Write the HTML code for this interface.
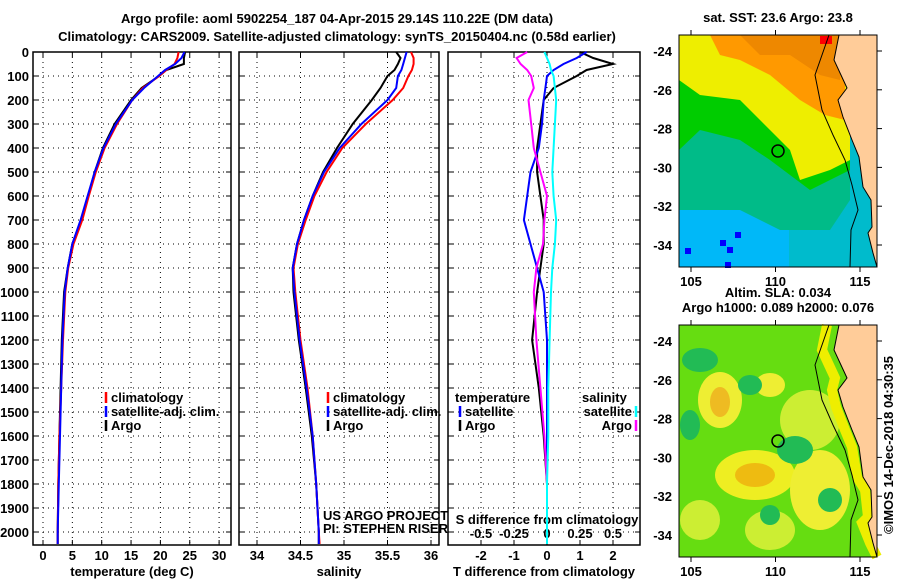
<!DOCTYPE html>
<html><head><meta charset="utf-8"><style>
body{margin:0;background:#fff}
svg text{font-family:"Liberation Sans",sans-serif;font-weight:bold;font-size:13px}
</style></head><body>
<svg id="c" width="900" height="580">
<text x="337" y="23" text-anchor="middle" font-size="15">Argo profile: aoml 5902254_187 04-Apr-2015 29.14S 110.22E (DM data)</text>
<text x="337" y="41" text-anchor="middle" font-size="15">Climatology: CARS2009. Satellite-adjusted climatology: synTS_20150404.nc (0.58d earlier)</text>
<g id="panels"></g>
<g id="maps"></g>
<text transform="translate(893,445) rotate(-90)" text-anchor="middle" font-weight="normal" font-size="13">©IMOS 14-Dec-2018 04:30:35</text>
</svg>
<script>
const depths=[0,25,50,75,100,150,200,300,400,500,600,700,800,900,1000,1200,1400,1600,1800,2000,2050];
const tClim=[23.1,22.9,22.4,21.0,19.8,17.0,15.2,12.6,10.5,9.0,7.8,6.7,5.2,4.3,3.8,3.4,3.1,2.8,2.6,2.5,2.5];
const tSat=[24.1,23.6,22.5,20.8,19.6,17.2,15.2,12.4,10.3,8.8,7.6,6.4,5.0,4.2,3.7,3.3,3.1,2.9,2.7,2.5,2.5];
const tArgo=[24.2,24.0,24.0,21.0,19.8,16.8,15.0,12.2,10.2,8.8,7.7,6.5,5.0,4.2,3.6,3.2,3.0,2.8,2.6,2.5,2.5];
const sClim=[35.77,35.8,35.8,35.78,35.74,35.68,35.56,35.25,34.98,34.8,34.66,34.56,34.47,34.42,34.44,34.5,34.58,34.64,34.68,34.71,34.72];
const sSat=[35.72,35.7,35.68,35.66,35.62,35.6,35.5,35.2,34.95,34.77,34.64,34.54,34.46,34.41,34.43,34.49,34.57,34.64,34.68,34.71,34.71];
const sArgo=[35.6,35.65,35.62,35.58,35.5,35.42,35.32,35.1,34.92,34.76,34.64,34.54,34.46,34.41,34.42,34.48,34.56,34.63,34.68,34.71,34.71];
const dTArgo=[1.0,1.4,2.0,1.2,0.9,0.2,-0.1,-0.2,-0.3,-0.3,-0.2,-0.1,-0.1,-0.2,-0.3,-0.45,-0.25,-0.1,0,0,0];
const dTSat=[1.2,0.9,0.5,0.2,0,-0.05,-0.1,-0.15,-0.25,-0.5,-0.6,-0.7,-0.5,-0.3,-0.1,0,0,0,0,0,0];
const dSSat=[-0.02,0,0.02,0.03,0.05,0.06,0.07,0.06,0.05,0.04,0.05,0.07,0.06,0.04,0.03,0.02,0.01,0.01,0,0,0];
const dSArgo=[-0.15,-0.23,-0.2,-0.15,-0.12,-0.1,-0.14,-0.12,-0.1,-0.05,0,-0.02,-0.03,-0.08,-0.1,-0.08,-0.05,-0.02,0,0,0];
const depthTicks=[0,100,200,300,400,500,600,700,800,900,1000,1100,1200,1300,1400,1500,1600,1700,1800,1900,2000];
const tTicks=[0,5,10,15,20,25,30];
const sTicks=[34,34.5,35,35.5,36];
const dTicks=[-2,-1,0,1,2];
const dSTickLabels=["-0.5","-0.25","0","0.25","0.5"];
const latTicks=[-24,-26,-28,-30,-32,-34];
const lonTicks=[105,110,115];
const NS="http://www.w3.org/2000/svg";
function el(t,a,p){const e=document.createElementNS(NS,t);for(const k in a)e.setAttribute(k,a[k]);p.appendChild(e);return e;}
const Y=d=>52+d*0.24;
const P=document.getElementById('panels');
function panel(x0,x1,xs,ticks,labs,xlabel,name){
  const g=el('g',{},P);
  
  
  ticks.forEach((t,i)=>{const x=xs(t);
    el('line',{x1:x,x2:x,y1:52,y2:545,stroke:'#000','stroke-dasharray':'1,4'},g);
    el('line',{x1:x,x2:x,y1:545,y2:540,stroke:'#000'},g);
    el('line',{x1:x,x2:x,y1:52,y2:57,stroke:'#000'},g);
    const tx=el('text',{x:x,y:560,'text-anchor':'middle'},g);tx.textContent=labs[i];
    
    
  });
  depthTicks.forEach(d=>{const y=Y(d);
    el('line',{x1:x0,x2:x1,y1:y,y2:y,stroke:'#000','stroke-dasharray':'1,4'},g);
    el('line',{x1:x0,x2:x0+5,y1:y,y2:y,stroke:'#000'},g);
    el('line',{x1:x1-5,x2:x1,y1:y,y2:y,stroke:'#000'},g);
  });
  el('rect',{x:x0,y:52,width:x1-x0,height:493,fill:'none',stroke:'#000','stroke-width':1.5},g);
  if(xlabel){const t=el('text',{x:(x0+x1)/2,y:576,'text-anchor':'middle'},g);t.textContent=xlabel;
    
    }
  return g;
}
function line(g,xs,vals,col,name){
  const pts=vals.map((v,i)=>xs(v).toFixed(1)+','+Y(depths[i]).toFixed(1)).join(' ');
  const p=el('polyline',{points:pts,fill:'none',stroke:col,'stroke-width':2},g);
  
  
}
function legend(g,x,y,items,anchor){
  items.forEach((it,i)=>{const yy=y+i*14;
    el('line',{x1:x,x2:x,y1:yy-10,y2:yy+1,stroke:it[1],'stroke-width':2.5},g);
    const t=el('text',{x:anchor==='end'?x-4:x+5,y:yy,'font-weight':'normal','font-size':12,'text-anchor':anchor||'start'},g);t.textContent=it[0];
    
    
  });
}
const xT=v=>43+v*5.87;
let g1=panel(33,231,xT,tTicks,tTicks.map(String),'temperature (deg C)','temperature-panel');
depthTicks.forEach(d=>{const t=el('text',{x:29,y:Y(d)+5,'text-anchor':'end'},g1);t.textContent=d;
  
  });
line(g1,xT,tArgo,'#000','temp-argo-line');line(g1,xT,tClim,'#f00','temp-climatology-line');line(g1,xT,tSat,'#00f','temp-satellite-line');
legend(g1,106,402,[['climatology','#f00'],['satellite-adj. clim.','#00f'],['Argo','#000']]);
const xS=v=>257+(v-34)*87;
let g2=panel(239,439,xS,sTicks,sTicks.map(String),'salinity','salinity-panel');
line(g2,xS,sArgo,'#000','sal-argo-line');line(g2,xS,sClim,'#f00','sal-climatology-line');line(g2,xS,sSat,'#00f','sal-satellite-line');
legend(g2,328,402,[['climatology','#f00'],['satellite-adj. clim.','#00f'],['Argo','#000']]);
let c1=el('text',{x:323,y:520,'font-weight':'normal','font-size':12},g2);c1.textContent='US ARGO PROJECT';

let c2=el('text',{x:323,y:533,'font-weight':'normal','font-size':12},g2);c2.textContent='PI: STEPHEN RISER';

const xD=v=>547+v*33;
const xDS=v=>547+v*132;
let g3=panel(448,640,xD,dTicks,dTicks.map(String),'T difference from climatology','difference-panel');
dSTickLabels.forEach(l=>{const t=el('text',{x:xDS(parseFloat(l)),y:538,'text-anchor':'middle','font-weight':'normal','font-size':12},g3);t.textContent=l;
  });
let sl=el('text',{x:547,y:524,'text-anchor':'middle','font-size':12},g3);sl.textContent='S difference from climatology';

line(g3,xD,dTArgo,'#000','t-diff-argo-line');line(g3,xD,dTSat,'#00f','t-diff-satellite-line');
line(g3,xDS,dSArgo,'#f0f','s-diff-argo-line');line(g3,xDS,dSSat,'#0ff','s-diff-satellite-line');
let lt=el('text',{x:455,y:402,'font-size':12},g3);lt.textContent='temperature';
let ls=el('text',{x:582,y:402,'font-size':12},g3);ls.textContent='salinity';
legend(g3,460,416,[['satellite','#00f'],['Argo','#000']]);
legend(g3,636,416,[['satellite','#0ff'],['Argo','#f0f']],'end');
const M=document.getElementById('maps');
const lonX=l=>691+(l-105)*16.9;
const coast="839,35 834,60 847,88 838,100 843,117 852,140 859,157 863,187 871,200 872,227 868,233 873,253 877,267 877,35";
function map(oy,name,titles,type){
  const g=el('g',{transform:`translate(0,${oy})`},M);
  
  if(type==='sst'){
    el('rect',{x:679,y:35,width:198,height:232,fill:'#0bc'},g);
    el('rect',{x:679,y:205,width:110,height:62,fill:'#00b8f8'},g);
    el('path',{d:'M679,35H850V200L830,230H780L740,210H679Z',fill:'#0b8'},g);
    el('path',{d:'M679,35H850V170L810,190L770,160L740,140L700,130L679,150Z',fill:'#0c0'},g);
    el('path',{d:'M679,35H850V160L830,170L800,180L790,150L770,130L740,100L700,95L679,80Z',fill:'#ee0'},g);
    el('path',{d:'M710,35H845V120L825,115L800,100L770,75L740,60L720,55Z',fill:'#f90'},g);
    el('path',{d:'M740,35H840V80L820,75L790,55L760,55Z',fill:'#e80'},g);
    [[720,240],[727,247],[725,262],[685,248],[735,232]].forEach(p=>el('rect',{x:p[0],y:p[1],width:6,height:6,fill:'#00f'},g));
    el('rect',{x:820,y:36,width:12,height:8,fill:'#f00'},g);
  } else {
    el('rect',{x:679,y:35,width:198,height:232,fill:'#6d1'},g);
    [[720,110,22,28,'#ee3'],[770,95,15,12,'#ee3'],[755,185,40,25,'#ee2'],[755,185,20,12,'#eb1'],[720,112,10,15,'#eb2'],[820,200,30,40,'#ee3'],[810,130,30,30,'#ce3'],[700,230,20,20,'#ce3'],[770,240,25,20,'#ce3']].forEach(b=>el('ellipse',{cx:b[0],cy:b[1],rx:b[2],ry:b[3],fill:b[4]},g));
    [[700,70,18,12],[795,160,18,14],[830,210,12,12],[690,135,10,15],[770,225,10,10],[750,95,12,10]].forEach(b=>el('ellipse',{cx:b[0],cy:b[1],rx:b[2],ry:b[3],fill:'#2b5'},g));
    el('polyline',{points:"827,35 822,60 835,88 832,100 836,117 845,140 852,157 857,187 865,200 868,227 862,233 870,253 877,267",fill:'none',stroke:'#ee0','stroke-width':10},g);
  }
  el('polygon',{points:coast,fill:'#fc9',stroke:'#000','stroke-width':1},g);
  el('polyline',{points:"829,35 815,75 822,110 833,135 845,160 852,185 858,210 851,230 850,267",fill:'none',stroke:'#000','stroke-width':1},g);
  el('circle',{cx:778,cy:151,r:6,fill:'none',stroke:'#000','stroke-width':1.5},g);
  el('rect',{x:679,y:35,width:198,height:232,fill:'none',stroke:'#000'},g);
  latTicks.forEach(l=>{const y=51+(-24-l)*19.4;
    el('line',{x1:877,x2:882,y1:y,y2:y,stroke:'#000'},g);
    const t=el('text',{x:672,y:y+5,'text-anchor':'end'},g);t.textContent=l;
    });
  lonTicks.forEach(l=>{const x=lonX(l);
    el('line',{x1:x,x2:x,y1:267,y2:272,stroke:'#000'},g);el('line',{x1:x,x2:x,y1:30,y2:35,stroke:'#000'},g);
    const t=el('text',{x:x,y:286,'text-anchor':'middle'},g);t.textContent=l;
    });
  titles.forEach((s,i)=>{const t=el('text',{x:778,y:22-(titles.length-1-i)*15,'text-anchor':'middle','font-size':12},g);t.textContent=s;
    });
}
map(0,'sst-map',['sat. SST: 23.6 Argo: 23.8'],'sst');
map(290,'sla-map',['Altim. SLA: 0.034','Argo h1000: 0.089 h2000: 0.076'],'sla');
</script>
</body></html>
